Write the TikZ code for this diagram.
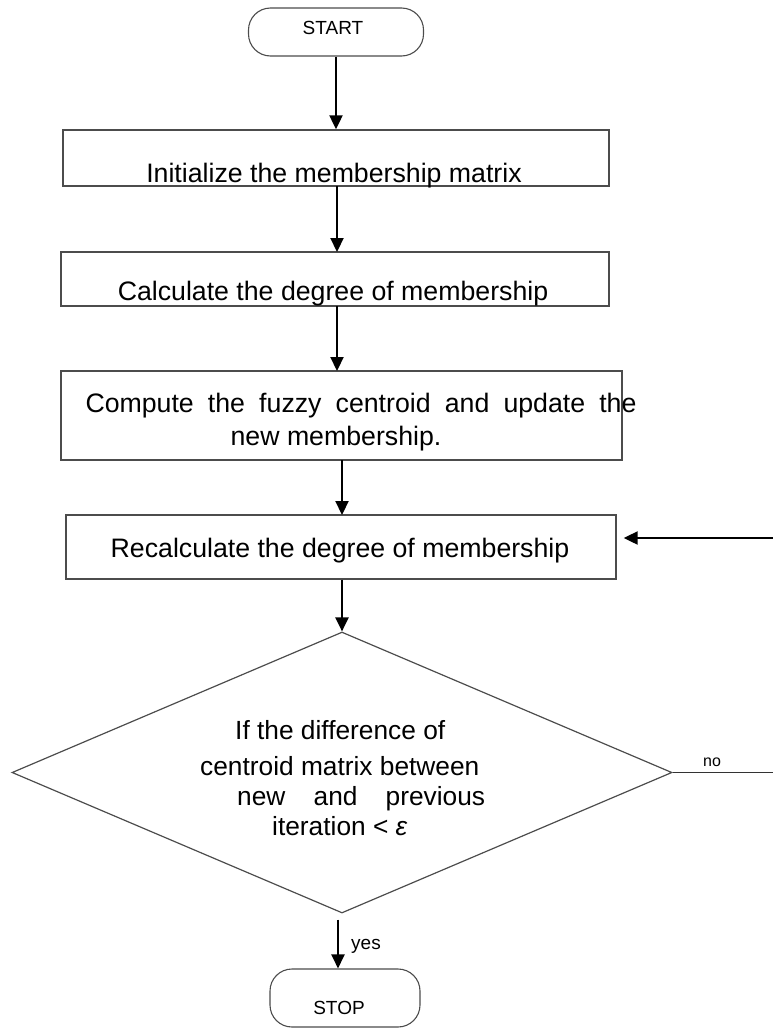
\documentclass[tikz,border=0pt]{standalone}
\usepackage{fontspec}
\setmainfont{Liberation Sans}
\usetikzlibrary{arrows.meta,shapes.geometric,calc}
\begin{document}
\begin{tikzpicture}[x=1pt,y=-1pt,
  box/.style={draw=black!70, line width=1.4pt, inner sep=0pt},
  term/.style={draw=black!70, line width=1.1pt, inner sep=0pt, rounded corners=22pt},
  dec/.style={draw=black!70, line width=1.2pt, diamond, inner sep=0pt},
  flow/.style={line width=2.2pt, -{Triangle[length=14pt,width=13pt]}},
  txt/.style={font=\fontsize{26.7}{30}\selectfont, inner sep=0pt, anchor=base},
  dtxt/.style={font=\fontsize{26.3}{30}\selectfont, inner sep=0pt, anchor=base west},
  small/.style={font=\fontsize{19}{22}\selectfont, inner sep=0pt},
  tiny/.style={font=\fontsize{16}{18}\selectfont, inner sep=0pt}]
\useasboundingbox (0,0) rectangle (772,1028);
% terminals
\node[term, minimum width=175pt, minimum height=48pt] (start) at (336,32) {};
\node[small] (starttxt) at (333,28) {START};
% boxes
\node[box, minimum width=546pt, minimum height=56pt] (b1) at (336,158) {};
\node[txt] (t1) at (334,182) {Initialize the membership matrix};
\node[box, minimum width=548pt, minimum height=54pt] (b2) at (335,279) {};
\node[txt] (t2) at (333,300) {Calculate the degree of membership};
\node[box, minimum width=561pt, minimum height=89pt] (b3) at (341.5,415.5) {};
\node[txt] (t3a) at (361,412) {\makebox[551pt][s]{Compute the fuzzy centroid and update the}};
\node[txt] (t3b) at (336,445) {new membership.};
\node[box, minimum width=550pt, minimum height=64pt] (b4) at (341,547) {};
\node[txt] (t4) at (340,557) {Recalculate the degree of membership};
% decision
\node[dec, minimum width=660pt, minimum height=281pt] (d) at (342,772.5) {};
\node[dtxt] (d1) at (235,739) {If the difference of};
\node[dtxt] (d2) at (200,775) {centroid matrix between};
\node[dtxt] (d3) at (237,805) {\makebox[248pt][s]{new and previous}};
\node[dtxt] (d4) at (272,835) {iteration < \textit{ε}};
\node[term, minimum width=150pt, minimum height=58pt] (stop) at (345,998) {};
\node[small] (stoptxt) at (339,1008) {STOP};
% labels
\node[tiny] (no) at (712,762) {no};
\node[small, anchor=west] (yes) at (351,946) {yes};
% connectors
\coordinate (fb) at (780,538);
\draw[flow] (start.south) -- (start.south |- b1.north);
\draw[flow] (337,186) -- (337,252);
\draw[flow] (337,306) -- (337,371);
\draw[flow] (342,460) -- (342,515);
\draw[flow] (b4.south -| d.north) -- (d.north);
\draw[flow] ($(d.south)+(-4,6)$) -- ($(stop.north)+(-7,0)$);
\draw[black!80, line width=1pt] (d.east) -- (d.east -| fb);
\draw[flow, shorten >=7pt] (fb) -- (fb -| b4.east);
\end{tikzpicture}
\end{document}
